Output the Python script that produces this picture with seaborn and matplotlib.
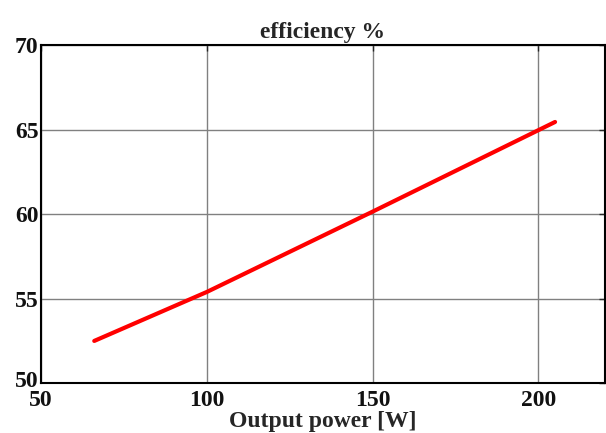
import matplotlib
matplotlib.use("Agg")
import matplotlib.pyplot as plt
import matplotlib.transforms as mtransforms
import seaborn as sns
import pandas as pd

# Efficiency versus output power
output_power = [66, 100, 150, 205]
efficiency = [52.5, 55.4, 60.15, 65.45]
x_ticks = [50, 100, 150, 200]
y_ticks = [50, 55, 60, 65, 70]

sns.set_style("white")
plt.rcParams["font.family"] = ["Liberation Serif", "DejaVu Serif"]
plt.rcParams["font.weight"] = "bold"

df = pd.DataFrame({"power": output_power, "eff": efficiency})

fig = plt.figure(figsize=(6.06, 4.33), dpi=100)
ax = fig.add_axes([0.068, 0.115, 0.93, 0.781])

sns.lineplot(data=df, x="power", y="eff", color="red", linewidth=3, ax=ax)

ax.set_xlim(50, 220)
ax.set_ylim(50, 70)
ax.set_xticks(x_ticks)
ax.set_yticks(y_ticks)
ax.grid(True, color="#808080", linewidth=1.0)
ax.tick_params(direction="in", length=4, width=1, labelsize=17,
               top=True, right=True)
ax.tick_params(axis="x", pad=5)
ax.tick_params(axis="y", pad=2)
for lbl in ax.get_xticklabels() + ax.get_yticklabels():
    lbl.set_fontweight("bold")
    lbl.set_color("#111111")
# nudge the lowest y label up slightly so it clears the first x label
first = ax.get_yticklabels()[0]
first.set_transform(first.get_transform() +
                    mtransforms.ScaledTranslation(0, 4 / 100, fig.dpi_scale_trans))
for s in ax.spines.values():
    s.set_color("black")
    s.set_linewidth(1.5)

ax.set_xlabel("Output power [W]", fontsize=17, fontweight="bold", labelpad=0)
ax.set_ylabel("")
ax.set_title("efficiency %", fontsize=17, fontweight="bold", pad=5)

fig.savefig("out.png", dpi=100)
